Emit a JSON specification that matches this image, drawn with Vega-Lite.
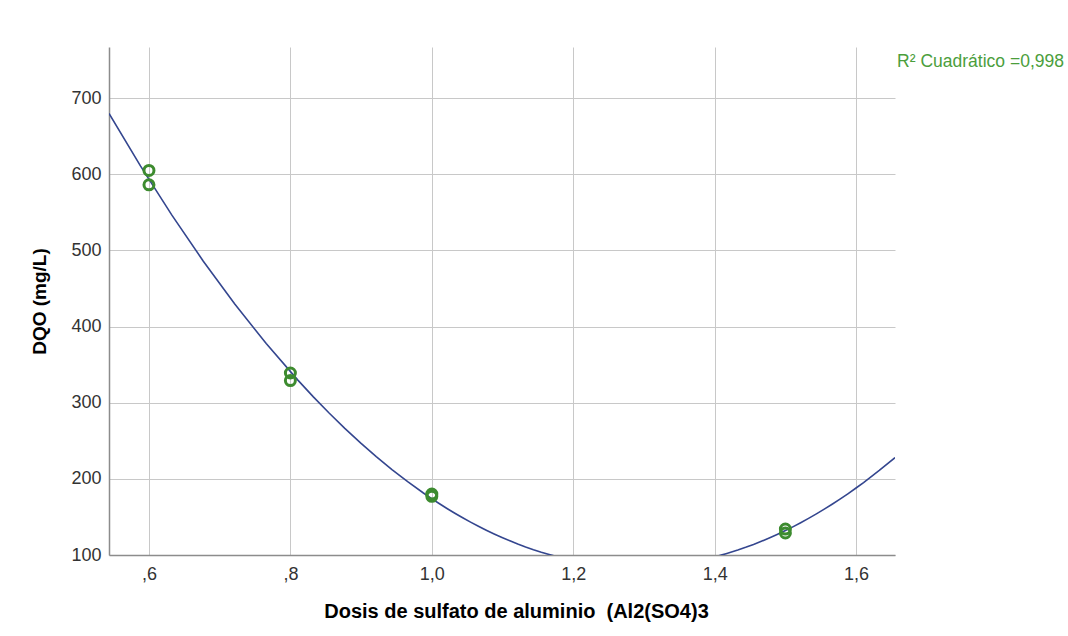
{
  "$schema": "https://vega.github.io/schema/vega-lite/v6.json",
  "width": 786,
  "height": 508,
  "autosize": "none",
  "padding": {"left": 109, "top": 47, "right": 173, "bottom": 81},
  "background": "white",
  "config": {
    "view": {"stroke": null},
    "font": "Liberation Sans",
    "axis": {
      "labelFont": "Liberation Sans",
      "titleFont": "Liberation Sans",
      "labelFontSize": 18,
      "labelColor": "#333333",
      "titleFontSize": 19,
      "titleFontWeight": "bold",
      "titleColor": "#000000",
      "gridColor": "#c8c8c8",
      "gridWidth": 1,
      "domainColor": "#8c8c8c",
      "domainWidth": 1.5,
      "ticks": false
    }
  },
  "datasets": {
    "pts": [
      {"dosis": 0.6, "dqo": 605},
      {"dosis": 0.6, "dqo": 586},
      {"dosis": 0.8, "dqo": 339},
      {"dosis": 0.8, "dqo": 329},
      {"dosis": 1.0, "dqo": 180},
      {"dosis": 1.0, "dqo": 177},
      {"dosis": 1.5, "dqo": 134},
      {"dosis": 1.5, "dqo": 129}
    ],
    "lbl": [
      {"dosis": 1.658, "dqo": 747, "t": "R² Cuadrático =0,998"}
    ]
  },
  "layer": [
    {
      "data": {"name": "pts"},
      "transform": [
        {"regression": "dqo", "on": "dosis", "method": "poly", "order": 2, "extent": [0.5435, 1.655]}
      ],
      "mark": {"type": "line", "clip": true, "color": "#34468f", "strokeWidth": 1.6},
      "encoding": {
        "x": {
          "field": "dosis", "type": "quantitative",
          "scale": {"domain": [0.5435, 1.655], "nice": false, "zero": false},
          "axis": {
            "values": [0.6, 0.8, 1.0, 1.2, 1.4, 1.6],
            "labelExpr": "datum.value < 1 ? ',' + substring(format(datum.value, '.1f'), 2) : replace(format(datum.value, '.1f'), '.', ',')",
            "title": "Dosis de sulfato de aluminio \u00a0(Al2(SO4)3",
            "titleFontSize": 20,
            "titleX": 407,
            "labelPadding": 10,
            "titlePadding": 18
          }
        },
        "y": {
          "field": "dqo", "type": "quantitative",
          "scale": {"domain": [100, 767], "nice": false, "zero": false},
          "axis": {
            "values": [100, 200, 300, 400, 500, 600, 700],
            "title": "DQO (mg/L)",
            "labelPadding": 8,
            "titlePadding": 21
          }
        }
      }
    },
    {
      "data": {"name": "pts"},
      "mark": {"type": "point", "shape": "circle", "filled": false, "color": "#3d8b2f", "strokeWidth": 3, "size": 100, "opacity": 1},
      "encoding": {
        "x": {"field": "dosis", "type": "quantitative"},
        "y": {"field": "dqo", "type": "quantitative"}
      }
    },
    {
      "data": {"name": "lbl"},
      "mark": {"type": "text", "align": "left", "baseline": "middle", "color": "#4b9e3c", "fontSize": 17.5, "font": "Liberation Sans"},
      "encoding": {
        "x": {"field": "dosis", "type": "quantitative"},
        "y": {"field": "dqo", "type": "quantitative"},
        "text": {"field": "t"}
      }
    }
  ]
}
